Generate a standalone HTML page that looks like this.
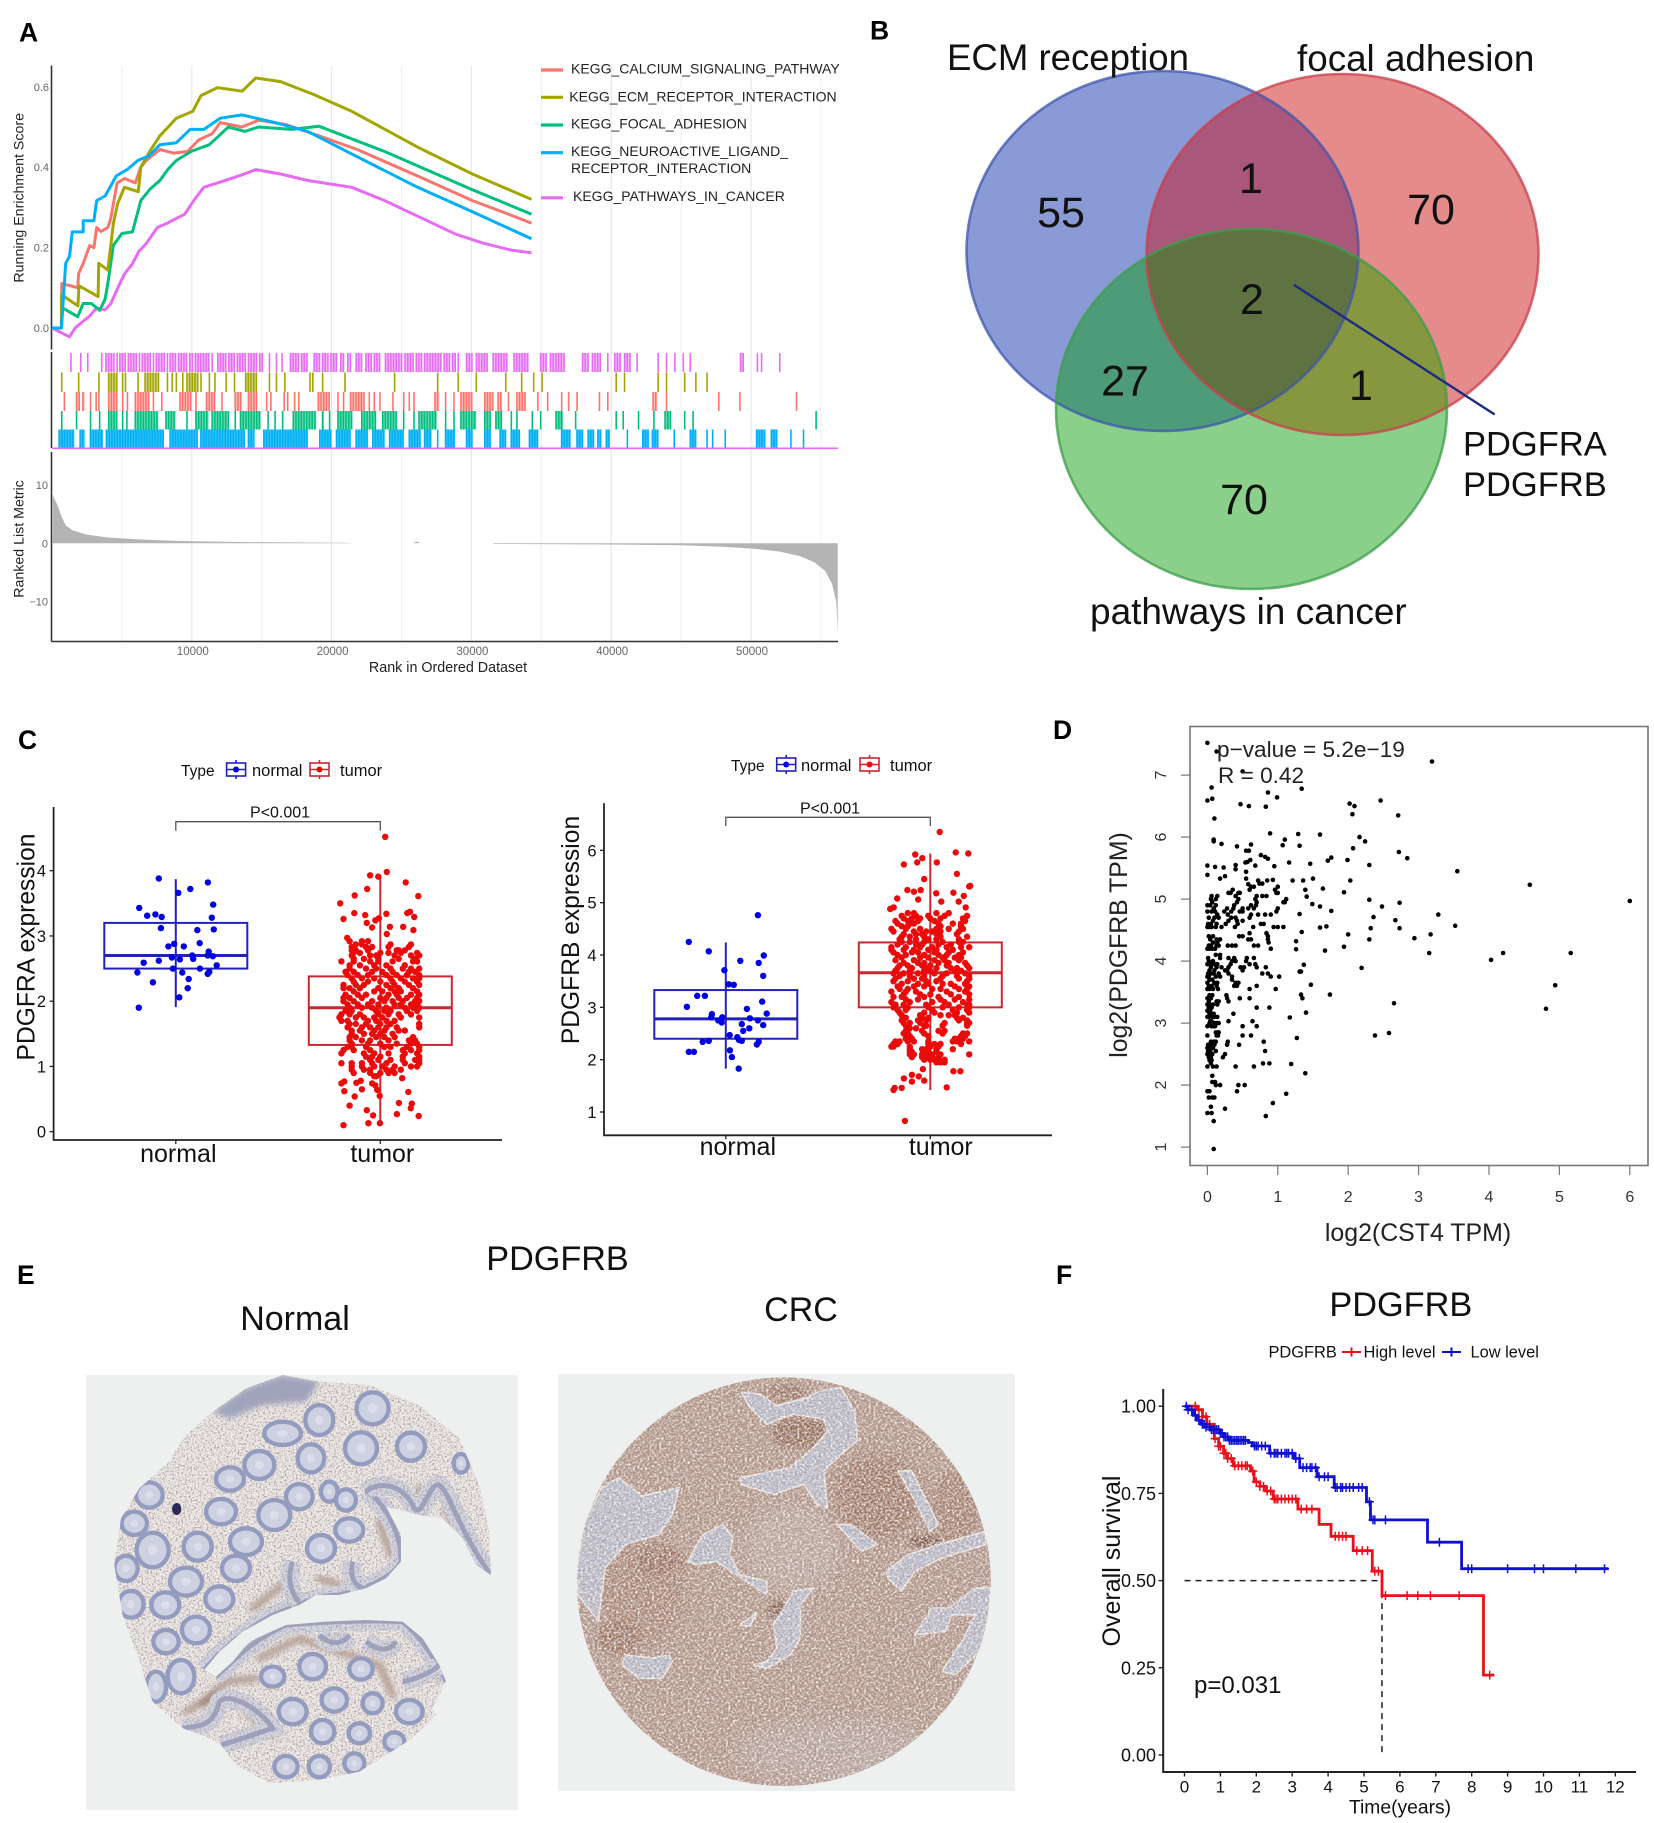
<!DOCTYPE html>
<html lang="en">
<head>
<meta charset="utf-8">
<title>PDGFR multi-panel figure</title>
<style>
html,body{margin:0;padding:0;background:#fff}
svg{display:block}
text{font-family:"Liberation Sans",sans-serif;fill:#111}
.letter{font-weight:700;font-size:26.5px;fill:#000}
</style>
</head>
<body>
<svg id="fig" xmlns="http://www.w3.org/2000/svg" width="1654" height="1823" viewBox="0 0 1654 1823">
<defs>
<clipPath id="clipBlue"><ellipse cx="1162.5" cy="251" rx="196" ry="180"/></clipPath>
<clipPath id="clipRed"><ellipse cx="1342.5" cy="254.5" rx="196" ry="180.5"/></clipPath>
<clipPath id="clipGreen"><ellipse cx="1251.5" cy="409" rx="195.5" ry="180"/></clipPath>
<clipPath id="clipNormal"><path transform="translate(86 1375) scale(.3333)" d="M590 0 L700 20 L850 30 L1000 90 L1120 190 L1180 330 L1210 470 L1215 600 L1170 570 L1130 490 L1070 430 L1000 420 L900 395 L945 480 L945 560 L900 610 L840 640 L760 660 L690 660 L640 690 L560 720 L470 770 L400 830 L355 885 L390 905 L440 860 L490 800 L600 750 L720 740 L840 735 L950 740 L1010 790 L1060 870 L1080 920 L1040 1000 L1050 1020 L980 1090 L900 1140 L820 1190 L700 1215 L550 1225 L450 1170 L405 1110 L360 1085 L290 1060 L200 980 L160 860 L110 720 L85 570 L105 430 L160 340 L250 260 L290 190 L380 110 L480 40 Z"/></clipPath>
<clipPath id="clipCrc"><ellipse cx="783.8" cy="1581.7" rx="207" ry="204.3"/></clipPath>
<filter id="speckle" x="0" y="0" width="100%" height="100%"><feTurbulence type="fractalNoise" baseFrequency="0.55" numOctaves="2" seed="4" result="n"/><feColorMatrix in="n" type="matrix" values="0 0 0 0 .42  0 0 0 0 .35  0 0 0 0 .36  3.2 0 0 0 -1.4" result="w"/><feComposite in="w" in2="SourceGraphic" operator="in" result="wc"/><feMerge><feMergeNode in="SourceGraphic"/><feMergeNode in="wc"/></feMerge></filter>
<filter id="fineTex" x="0" y="0" width="100%" height="100%"><feTurbulence type="fractalNoise" baseFrequency="0.42 0.5" numOctaves="2" seed="9" result="n"/><feColorMatrix in="n" type="matrix" values="0 0 0 0 .97  0 0 0 0 .93  0 0 0 0 .91  2.6 0 0 0 -1.08" result="w"/><feColorMatrix in="n" type="matrix" values="0 0 0 0 .38  0 0 0 0 .27  0 0 0 0 .24  0 2.2 0 0 -0.96" result="d"/><feComposite in="w" in2="SourceGraphic" operator="in" result="wc"/><feComposite in="d" in2="SourceGraphic" operator="in" result="dc"/><feMerge><feMergeNode in="SourceGraphic"/><feMergeNode in="wc"/><feMergeNode in="dc"/></feMerge></filter>
<filter id="soft" x="-20%" y="-20%" width="140%" height="140%"><feGaussianBlur stdDeviation="1.1"/></filter>
<filter id="softer" x="-50%" y="-50%" width="200%" height="200%"><feGaussianBlur stdDeviation="9"/></filter>
<filter id="softest" x="-50%" y="-50%" width="200%" height="200%"><feGaussianBlur stdDeviation="22"/></filter>
</defs>

<text class="letter" x="19" y="41.5">A</text>
<text class="letter" x="870" y="39.5">B</text>
<text class="letter" x="18" y="749">C</text>
<text class="letter" x="1053" y="739">D</text>
<text class="letter" x="17" y="1284">E</text>
<text class="letter" x="1056" y="1284">F</text>

<g id="panelA"></g>

<g id="panelB">
<ellipse cx="1162.5" cy="251" rx="196" ry="180" fill="#8A9AD6"/>
<ellipse cx="1342.5" cy="254.5" rx="196" ry="180.5" fill="#E58B8B"/>
<ellipse cx="1251.5" cy="409" rx="195.5" ry="180" fill="#8AD08B"/>
<g clip-path="url(#clipBlue)"><ellipse cx="1342.5" cy="254.5" rx="196" ry="180.5" fill="#A9577A"/></g>
<g clip-path="url(#clipBlue)"><ellipse cx="1251.5" cy="409" rx="195.5" ry="180" fill="#4E9B79"/></g>
<g clip-path="url(#clipRed)"><ellipse cx="1251.5" cy="409" rx="195.5" ry="180" fill="#86973F"/></g>
<g clip-path="url(#clipRed)"><g clip-path="url(#clipBlue)"><ellipse cx="1251.5" cy="409" rx="195.5" ry="180" fill="#5E7341"/></g></g>
<ellipse cx="1162.5" cy="251" rx="196" ry="180" fill="none" stroke="#3F55AE" stroke-opacity=".75" stroke-width="2.6"/>
<ellipse cx="1342.5" cy="254.5" rx="196" ry="180.5" fill="none" stroke="#C93F4C" stroke-opacity=".75" stroke-width="2.6"/>
<ellipse cx="1251.5" cy="409" rx="195.5" ry="180" fill="none" stroke="#3C9E4C" stroke-opacity=".75" stroke-width="2.6"/>
<line x1="1293.7" y1="284.7" x2="1494.7" y2="414.5" stroke="#1C2C80" stroke-width="2.4"/>
<text x="947" y="70" font-size="36.6">ECM reception</text>
<text x="1297" y="71" font-size="36.8">focal adhesion</text>
<text x="1090" y="624" font-size="37">pathways in cancer</text>
<text x="1061" y="227" font-size="43" text-anchor="middle">55</text>
<text x="1251" y="193" font-size="43" text-anchor="middle">1</text>
<text x="1431" y="224" font-size="43" text-anchor="middle">70</text>
<text x="1252" y="314" font-size="43" text-anchor="middle">2</text>
<text x="1125" y="395.5" font-size="43" text-anchor="middle">27</text>
<text x="1361" y="400" font-size="43" text-anchor="middle">1</text>
<text x="1244" y="514" font-size="43" text-anchor="middle">70</text>
<text x="1463" y="455.5" font-size="34.5">PDGFRA</text>
<text x="1463" y="496" font-size="34.5">PDGFRB</text>
</g>

<g id="panelC"></g>
<g id="panelD"></g>

<g id="panelE">
<text x="557.5" y="1270" font-size="34.2" text-anchor="middle">PDGFRB</text>
<text x="295" y="1330" font-size="34" text-anchor="middle">Normal</text>
<text x="801" y="1321" font-size="34" text-anchor="middle">CRC</text>
<rect x="86" y="1375" width="432" height="435" fill="#EEF0EF"/>
<rect x="558" y="1374" width="457" height="417" fill="#EEF0EF"/>
<g clip-path="url(#clipNormal)">
<g filter="url(#speckle)"><rect x="86" y="1375" width="432" height="435" fill="#EFEBE8"/>
<g id="normalBands" transform="translate(86 1375) scale(.3333)"></g></g>
<g id="normalGlands" transform="translate(86 1375) scale(.3333)" filter="url(#soft)"></g>
</g>
<g clip-path="url(#clipCrc)">
<g filter="url(#fineTex)"><rect x="570" y="1370" width="430" height="425" fill="#B29587"/>
<g transform="translate(558 1374) scale(.3367 .3344)">
<ellipse cx="700" cy="520" rx="140" ry="130" fill="#BCA89F" filter="url(#softest)"/>
<ellipse cx="830" cy="1130" rx="300" ry="90" fill="#B8A69F" filter="url(#softest)"/>
<ellipse cx="250" cy="650" rx="130" ry="170" fill="#AA8572" filter="url(#softest)"/>
<ellipse cx="950" cy="370" rx="130" ry="130" fill="#A07660" filter="url(#softest)"/>
<ellipse cx="1180" cy="400" rx="70" ry="110" fill="#A67E69" filter="url(#softer)"/>
<ellipse cx="720" cy="175" rx="90" ry="45" fill="#94694F" filter="url(#softer)"/>
<ellipse cx="680" cy="60" rx="60" ry="30" fill="#9F745E" filter="url(#softer)"/>
<ellipse cx="1090" cy="500" rx="50" ry="18" fill="#7A4A30" filter="url(#softer)"/>
<ellipse cx="660" cy="705" rx="38" ry="25" fill="#85593F" filter="url(#softer)"/>
<ellipse cx="300" cy="560" rx="70" ry="45" fill="#9E725A" filter="url(#softer)"/>
<ellipse cx="180" cy="790" rx="65" ry="50" fill="#9E745D" filter="url(#softer)"/>
<g id="crcStroma" fill="#B9BFD0" stroke="#EFEBEA" stroke-width="5" stroke-linejoin="round" filter="url(#soft)"></g>
</g></g>
</g>
</g>

<g id="panelF"></g>
</svg>

<script>
/* ---------- Panel A data: rank in ordered dataset, running enrichment score ---------- */
const rankTicks = [10000, 20000, 30000, 40000, 50000];
const rankGrid = [5000, 10000, 15000, 20000, 25000, 30000, 35000, 40000, 45000, 50000, 55000];
const esTicks = [0, 0.2, 0.4, 0.6];
const metricTicks = [-10, 0, 10];
const esCalcium = [[0,0],[670,0],[700,.111],[1840,.1],[1900,.135],[2230,.161],[2700,.205],[3000,.2],[3200,.25],[3500,.24],[4000,.25],[4200,.272],[4660,.361],[5200,.372],[5960,.361],[6350,.4],[6740,.417],[7720,.444],[8700,.435],[9680,.439],[10500,.468],[11450,.483],[12030,.511],[13600,.5],[14780,.517],[16740,.506],[19090,.478],[21830,.444],[26150,.378],[30070,.317],[32500,.285],[34300,.261]];
const esEcm = [[0,0],[670,0],[670,.083],[1850,.055],[1930,.105],[3300,.078],[3340,.161],[4000,.144],[4390,.261],[4700,.31],[5180,.35],[6170,.339],[6350,.4],[7000,.44],[7720,.478],[8900,.522],[10070,.539],[10660,.578],[11840,.598],[13600,.589],[14580,.622],[16350,.613],[18700,.581],[21440,.539],[26150,.45],[30070,.383],[34300,.32]];
const esFocal = [[0,0],[670,0],[750,.05],[1840,.028],[2230,.061],[2820,.061],[3410,.044],[3800,.072],[4000,.112],[4390,.206],[5000,.235],[5760,.239],[6350,.317],[7000,.345],[7720,.367],[8300,.395],[8900,.417],[10000,.44],[11250,.456],[12620,.5],[13800,.489],[14780,.5],[17130,.494],[19090,.502],[23800,.439],[30070,.344],[34300,.283]];
const esNeuro = [[0,0],[670,0],[980,.161],[1250,.178],[1450,.239],[2230,.239],[2230,.267],[3000,.267],[3200,.317],[3800,.328],[4590,.378],[5370,.394],[6150,.417],[6940,.428],[7720,.456],[8900,.461],[9880,.494],[10860,.494],[12030,.522],[13600,.53],[15950,.511],[18300,.489],[21440,.433],[26150,.35],[30070,.289],[34300,.222]];
const esCancer = [[0,0],[1250,-.022],[1650,0],[2230,.017],[2700,.03],[3200,.05],[3800,.045],[4200,.06],[4780,.105],[5200,.135],[5760,.16],[6200,.19],[6740,.21],[7530,.25],[8200,.26],[9490,.283],[10200,.32],[10860,.35],[12030,.363],[13600,.381],[14580,.394],[16350,.383],[18300,.367],[21440,.35],[23800,.317],[26150,.278],[28900,.233],[30850,.211],[32800,.194],[34300,.187]];
/* gene-set hits, rank / 100, [from,to] or [single] */
const rugCancer = [[13],[20],[25],[35],[38,44],[46],[48,52],[54,60],[62],[64,70],[72],[74,80],[82],[84,88],[90,96],[98,100],[102,112],[114],[118,124],[126,130],[132,138],[140,146],[148,151],[155],[160],[164],[170,176],[178,183],[187,191],[193,197],[199,204],[206,209],[211,213],[217,222],[224,228],[230,234],[238,250],[252,258],[260,264],[266,278],[280,284],[286,288],[290],[296,300],[303,311],[315,326],[330,341],[349,354],[356,367],[379,384],[386,392],[397],[402,407],[409,414],[418],[433],[439],[445],[451],[456],[492,494],[504],[507],[520]];
const rugEcm = [[6.4],[18.5],[33],[40,47],[50],[52],[61],[66,76],[82],[85.4],[88.4],[93],[96,104],[106],[112],[116],[124],[130],[138,146],[155],[160],[166],[184],[186],[193],[209],[244.5],[275.3],[290],[303,304],[324],[335.4],[344],[350],[403],[409],[433],[439],[452],[460],[468]];
const rugCalcium = [[8.3],[17,20],[21.5,23.4],[27],[31],[33],[40,46],[50],[53.4],[59,69],[72],[78],[91,99],[102.4],[110,116],[121],[130.5,136],[140,146],[153],[156],[165.5],[168],[173],[176],[190,198],[204],[208],[213,223],[226.4],[230],[234],[243.3],[251],[255],[258.4],[273.4,277],[281],[287],[292,300.5],[309,315],[318.5,322],[326],[332,339],[347],[354],[364],[369],[375],[391],[397],[429.4,433],[439],[476.4],[491.5],[532]];
const rugFocal = [[6.4],[17],[27],[33.5],[40,46],[50],[53],[59,76],[81,88.4],[96],[102.4,112],[114,125.6],[130.5],[134.3,149.3],[154],[159],[164.4],[172,189],[193,194.5],[198],[204,215],[221,232],[236,247],[251],[258.4],[262,275.3],[281],[287],[292,303.5],[309,313],[317,322],[328],[332],[343],[349],[360,365.5],[374],[403],[408],[419],[430],[438,442],[452],[458],[546]];
const rugNeuro = [[4.6,16],[19.6,23.4],[27,36.5],[38.4,80],[84,104],[106,138],[140,144],[151,183],[191,200],[203,213],[217,226],[229,238],[241,251],[255,263],[266,271.5],[275.3],[281,288.4],[296,300],[309,313],[320,324],[328,334],[341,347],[364,371],[375,380],[383,387],[390,393],[396,399],[411],[422,426],[429,433],[444.5],[456,460],[468],[472],[481],[503.5,510],[514,518],[528],[537]];
/* ranked list metric: [rank, value] */
const metricCurve = [[0,9],[100,8],[400,6.5],[700,4.5],[1000,3],[1500,2.2],[2500,1.5],[4000,1],[6000,.7],[9000,.4],[14000,.2],[21000,.1],[21500,0],[25900,0],[26000,.25],[26200,.25],[26300,0],[31500,0],[31600,-.1],[40000,-.2],[45000,-.35],[48000,-.6],[50000,-.9],[52000,-1.4],[53500,-2.2],[54500,-3.2],[55300,-4.7],[55800,-7],[56100,-10],[56200,-15.5]];
const gseaNames = ['KEGG_CALCIUM_SIGNALING_PATHWAY','KEGG_ECM_RECEPTOR_INTERACTION','KEGG_FOCAL_ADHESION','KEGG_NEUROACTIVE_LIGAND_','RECEPTOR_INTERACTION','KEGG_PATHWAYS_IN_CANCER'];

/* ---------- Panel C data: [value, jitter...] rows; jitter is hundredths of a category ---------- */
const boxTicksA = [0, 1, 2, 3, 4];
const boxTicksB = [1, 2, 3, 4, 5, 6];
const boxCategories = ['normal', 'tumor'];
/* low whisker, q1, median, q3, high whisker */
const statsANormal = [1.91, 2.5, 2.7, 3.2, 3.87];
const statsATumor = [0.1, 1.33, 1.9, 2.38, 3.88];
const statsBNormal = [1.83, 2.4, 2.78, 3.33, 4.24];
const statsBTumor = [1.42, 3.0, 3.66, 4.24, 5.94];
const normalA = [[3.88,-8.3],[3.82,15.7],[3.66,1.2],[3.72,7.1],[3.48,18.3],[3.43,-17.9],[3.31,-14],[3.33,-10],[3.29,-6.9],[3.28,17.6],[3.12,-7.3],[3.09,10.5],[3.1,18.6],[2.89,11.7],[2.88,-.8],[2.84,-3.6],[2.84,3.9],[2.76,16.1],[2.7,8],[2.7,15.6],[2.69,18.1],[2.67,-1.9],[2.64,2],[2.65,8.5],[2.59,-15.7],[2.62,-8.3],[2.55,20],[2.5,-1.4],[2.5,11.8],[2.44,-18.8],[2.44,3.2],[2.45,16.4],[2.42,15.6],[2.34,6.3],[2.29,-11.2],[2.2,5.8],[2.06,1.7],[1.9,-18.1]];
const tumorA = [[4.52,2.4],[3.98,3.2],[3.93,-5],[3.91,-1],[3.82,12.4],[3.72,-6.4],[3.62,-12.5],[3.61,18.6],[3.5,-19.6],[3.35,-12.7],[3.32,-7.4],[3.34,3],[3.37,14.5],[3.35,13.2],[3.29,16.6],[3.26,-18],[3.27,-.7],[3.24,-2.4],[3.2,-6.6],[3.14,4.7],[3.14,11.2],[3.13,-4],[3.09,16.2],[3.03,3.2],[2.97,-16.2],
[2.92,-15,-9,-6],[2.87,-12,-9,5,15],[2.83,-14,-7,-4,4,14],[2.78,-14,-12,-6,8,9,12],[2.74,-13,-10,0,4,10,18],[2.7,-14,-5,-2,7,15,19],[2.65,-13,-8,-1,9,17],[2.61,-19,-13,-5,-1,6,16,18],[2.55,-15,-10,-3,3,12],[2.5,-15,-7,-2,5,11,15,19],[2.45,-17,-13,-4,1,6,14,17],[2.4,-16,-11,-6,3,8,13,19],[2.35,-14,-9,-3,5,10,16,19],[2.3,-13,-6,0,6,12,18],[2.25,-18,-12,-8,3,7,14,19],[2.2,-18,-15,-10,-1,5,9,16],[2.15,-13,-3,1,7,10,18],[2.1,-17,-11,-7,4,8,15,19],[2.05,-18,-15,-9,0,3,9,13,18],[2,-18,-13,-4,2,6,11,17,19],[1.95,-16,-11,-6,-1,7,10,15,18],[1.9,-15,-9,-4,3,12,16,19],[1.85,-17,-14,-2,2,5,13,18],[1.8,-19,-15,-10,-1,4,9,15],[1.75,-20,-12,-8,-3,1,10,19],[1.7,-19,-16,-6,-2,3,7],[1.65,-15,-12,-7,0,5,19],[1.6,-16,-9,-5,-1,3,8,19],[1.55,-14,-10,-3,2,9,12],[1.5,-14,-8,-4,0,6],[1.45,-15,-12,-2,2,7,16],[1.4,-15,-9,-5,4,14,17],[1.35,-14,-6,0,8,15,18],[1.3,-16,-14,-7,2,5,13,19],[1.25,-18,-13,-5,11,15,19],[1.2,-19,-8,-3,4,12,18],[1.15,-7,-4,0,11,19],[1.1,-5,-1,5,11,17,19],[1.05,-19,-14,-9,-4,3,12,19],[1,-14,-9,-3,1,7,15,18],[.95,-14,-8,-5,3,6,10],[.9,-13,-5,0,4,7],[.85,-3,-2],
[.82,10.7],[.78,-9.6],[.77,-17.6],[.75,-11.7],[.74,-19],[.74,-4],[.71,-2.4],[.65,-9],[.64,-1.5],[.62,-17.6],[.61,13.7],[.55,-.3],[.54,-12.5],[.44,9.1],[.43,15.4],[.4,-15],[.36,14.9],[.33,-6.6],[.27,8.1],[.25,-3.5],[.24,18.8],[.13,-5.8],[.13,-.2],[.1,-18]];
const normalB = [[4.76,15.7],[4.25,-18.1],[4.07,-8.3],[3.99,18.6],[3.89,7.1],[3.85,16.1],[3.71,-.7],[3.6,18.3],[3.44,1.4],[3.43,3.9],[3.22,-14],[3.22,-10.2],[3.11,17.8],[3.01,-19],[2.97,10.3],[2.88,20],[2.87,-6.8],[2.81,-7.1],[2.81,-1.7],[2.79,11.8],[2.75,-3.7],[2.71,-2],[2.75,15.7],[2.66,18.3],[2.68,7.8],[2.6,11.5],[2.55,8.5],[2.47,1.9],[2.43,5.6],[2.38,6.4],[2.36,7.8],[2.34,-11.3],[2.36,-8.3],[2.34,16.1],[2.29,15.2],[2.15,-18.1],[2.15,-15.6],[2.18,2],[2.05,3],[1.83,6.3]];
const tumorB = [[6.35,4.6],[5.92,-7.4],[5.85,-3.9],[5.96,12.4],[5.94,18.6],[5.73,-12.9],[5.77,-6.4],[5.77,3.2],[5.55,13],[5.45,-3],[5.32,19.5],[5.31,19],[5.24,-11.2],[5.21,-8],[5.24,-4.7],[5.18,2.9],[5.19,11.3],[5.13,16.4],[5.08,-16.2],[5.06,-5.9],[5.02,5.4],[5.02,13.9],[4.91,17.3],[4.88,-19.6],[4.91,-17.9],
[4.8,-11,-8,3,9],[4.75,-14,-7,-1,7,18],[4.7,-13,-9,-5,0,5,16],[4.65,-17,-11,-6,2,17],[4.6,-16,-10,-8,4,11,15],[4.55,-14,-11,5,15],[4.5,-19,-12,-5,3,9,16],[4.45,-18,-8,-2,1,5,14],[4.4,-13,-7,-4,3,13],[4.35,-14,-10,-3,5,18],[4.3,-15,-7,-1,3,14],[4.25,-14,-10,-3,6,14,16],[4.2,-16,-7,-4,4,10],[4.15,-19,-12,-5,1,8,15,19],[4.1,-19,-13,-8,-1,3,11],[4.05,-18,-9,-6,2,9,16],[4,-16,-12,-3,4,8,14],[3.95,-14,-5,-1,6,12,15],[3.9,-17,-8,2,7,14],[3.85,-13,-6,-3,4,9,17],[3.8,-15,-11,-4,0,8,18],[3.75,-16,-9,-2,3,10,13,19],[3.7,-17,-10,-3,0,12,15],[3.65,-18,-13,-6,2,8,17],[3.6,-15,-10,-3,6,13,19],[3.55,-17,-8,-4,5,14,19],[3.5,-18,-11,-2,3,18],[3.45,-14,-6,-1,6,10,17],[3.4,-16,-8,-3,12,19],[3.35,-15,-11,1,5,14,18],[3.3,-19,-12,-7,8,17],[3.25,-13,-5,0,10,19],[3.2,-18,-14,-3,4,14],[3.15,-12,-6,5,12,19],[3.1,-19,-10,1,7,16],[3.05,-17,-13,-2,9,18,19],[3,-18,-11,-1,6,14,19],[2.95,-16,-12,1,11,18],[2.9,-15,-3,2,13,19],[2.85,-14,-5,5,9,12],[2.8,-12,-4,-1,13,16],[2.75,-14,-6,-2,14,18],[2.7,-13,-10,-5,7,18,19],[2.65,-12,-3,-2,6,18],[2.6,-10,-7],[2.55,-12,-4,4,7],[2.5,-13,-11,-3,6,16,18],[2.45,-10,-1,15,17],[2.4,-12,-9,12,14,16],[2.35,-17,-15,-11,-8,-1,11,13,19],[2.3,-18,-16,-1,2,5,15],[2.25,-19,-18,-10,0,4],[2.2,-10,-4,-2,3,11],[2.15,-10,-9,-3,-1,3],[2.1,-10,-8,-4,-2,1,5,19],[2.05,-9,-4,-1,1,4],[2,-3,0,2,4,7],[1.95,3,5,7],
[1.82,-3.6],[1.78,11.3],[1.78,14.7],[1.71,-9],[1.68,-5.6],[1.64,-12.9],[1.6,-3],[1.58,-9],[1.47,8],[1.46,-17.4],[1.46,-14],[1.42,-18],[.83,-12.4]];

/* ---------- Panel D data: [y, x...] rows, log2 TPM ---------- */
const scatterXTicks = [0, 1, 2, 3, 4, 5, 6];
const scatterYTicks = [1, 2, 3, 4, 5, 6, 7];
const scatterRows = [[7.52,0],[7.22,3.19],[7.38,.13],[7.06,.5],[6.8,.06],[6.78,1.34],[6.72,.86],[6.59,0],[6.62,.07],[6.64,.99],[6.53,.47],[6.5,.59],[6.49,.83],[6.54,2.02],[6.5,2.09],[6.59,2.46],[6.37,2.06],[6.35,2.71],[6.3,.1],[6.06,.89],[6.05,1.29],[6.04,1.6],[5.96,.09],[5.93,.09],[5.96,1.1],[6,2.16],[5.93,2.24],[5.89,.2],[5.85,.42],[5.88,.62],[5.87,1.07],[5.86,1.31],[5.82,2.07],[5.78,.55],[5.78,.59],[5.76,2.72],[5.71,.76],[5.66,2.84],[5.68,.82],[5.65,.86],[5.67,1.76],[5.62,1.71],[5.63,1.99],[5.6,.57],[5.63,.61],[5.59,.54],[5.59,1.16],[5.57,1.46],[5.55,2.3],[5.54,0],[5.52,.11],[5.51,.23],[5.55,.4],[5.48,.4],[5.54,.68],[5.53,.95],[5.45,3.55],[5.39,0],[5.44,.55],[5.33,.18],[5.37,.25],[5.33,.55],[5.31,.93],[5.3,1.21],[5.3,1.36],[5.33,1.5],[5.3,2.03],[5.24,.58],[5.23,4.58],[5.2,.62],
[5.17,1.64],[5.15,1.39],[5.11,1.94],[4.99,2.3],[4.94,2.73],[4.97,6],[5.04,1.41],[4.92,1.49],[4.88,1.6],[4.88,2.48],[4.81,1.76],[4.75,3.28],[4.71,2.36],[4.66,2.67],[4.76,1.31],[4.57,3.52],[4.56,1.69],[4.54,1.6],[4.53,2.32],[4.53,2.73],[4.47,1.34],[4.43,2],[4.43,3.17],[4.32,1.26],[4.35,2.3],[4.37,2.94],[4.19,1.26],[4.17,1.67],[4.23,1.94],[4.13,3.15],[4.13,4.2],[4.13,5.16],[4.02,4.03],[3.89,2.19],[3.94,1.37],[3.83,1.31],[3.83,1.33],[3.62,1.47],[3.61,4.94],[3.46,1.74],[3.46,1.33],[3.4,1.35],[3.32,2.65],[3.23,4.81],[3.17,1.4],[3.09,1.17],[2.8,2.38],[2.84,2.58],[2.76,1.27],[2.34,1.19],[2.19,1.39],[1.86,1.12],[1.71,.93],[1.5,.83],[1.62,.25],[1.42,.09],[.97,.09],
[1.55,0,.06],[1.65,.05],[1.8,.02,.07,.1],[1.9,0,.03,.42],[2,.12,.18,.44,.53],[2.05,.07,.11],[2.15,.07],[2.3,0,.08,.13,.4,.66],[2.35,.05,.79,.88],[2.4,.03,.06],[2.45,.02,.05,.22],[2.5,0,.03,.07,.25],[2.55,.01,.04,.12,.82],[2.6,0,.03,.08],[2.65,.01,.06,.1,.45,.28],[2.7,.05,.09,.12,.29,.8],[2.8,0,.13,.15,.5,.62],[2.85,.12,.15,.16],[2.95,0,.06,.08,.11,.5,.7],[3,.03,.1,.13,.16],[3.03,.04,.06,.3,.64],[3.1,0,.02,.07,.1,.14],[3.15,.03,.05,.09,.37],[3.2,0,.01,.04],[3.25,.02,.06,.7,.88],[3.3,0,.03,.08,.14],[3.35,.02,.13,.16,.3],[3.4,0,.05,.28,.46,.6],[3.45,.03,.07,.27],[3.55,0,.03,.08,.15,.6,.97],[3.6,.02,.06,.13,.38,.42,.7],[3.65,0,.1,.14,.4,.44],[3.7,.03,.07,.35],[3.75,0,.02,.12,.18,.35,.9,1.02],[3.8,.01,.05,.09,.16,.3,.78,.86],[3.85,.03,.1,.25,.28,.5],[3.9,.05,.13,.2,.3,.47,.52,.7,.83],[3.95,0,.06,.1,.14,.33,.6,.68],[4,.02,.08,.35,.4,.55],[4.05,.01,.18,.3,.38,.56,.66],[4.1,.12,.18],[4.2,0,.03,.07,.11,.9],[4.25,.02,.05,.13,.16,.29,.35,.4,.66,.72],[4.3,.08,.14,.87],[4.35,.04,.13,.18,.58,.62,.86],[4.4,.02,.08,.45,.5,.86],[4.45,.6,.84],[4.55,0,.03,.06,.12,.2,.39,.65,.94,1,1.08],[4.6,.01,.05,.13,.26,.43,.76,.8],[4.65,.08,.3,.42,.5],[4.7,.02,.1,.16,.34,.4,.6],[4.75,.14,.29,.62,.72,.82,.9],[4.8,0,.06,.11,.24,.34,.46,.5,.98],[4.85,.09,.28,.37,.5,.58,.66,1],[4.9,0,.04,.12,.38,.62,.69],[4.95,.07,.42,.7,1.08,1.1],[5,.05,.12,.44,.68,1.12],[5.05,.06,.14,.4,.7,.78,.84],[5.1,.3,.33,.44,.46,.98,1],[5.15,.36,.6,.96],[5.2,.66,1],[5.25,.74,.78],[5.3,.72,.85]];

/* ---------- Panel F data: [years, survival] step events and censor times ---------- */
const survXTicks = [0,1,2,3,4,5,6,7,8,9,10,11,12];
const survYTicks = [0, 0.25, 0.5, 0.75, 1];
const survHigh = [[0,1],[.35,.99],[.5,.97],[.62,.948],[.83,.907],[.95,.885],[1.09,.865],[1.2,.85],[1.36,.829],[1.84,.814],[1.94,.783],[2.1,.77],[2.26,.757],[2.47,.734],[3.16,.705],[3.75,.661],[4.08,.627],[4.7,.586],[5.23,.527],[5.5,.457],[8.33,.229]];
const survLow = [[0,1],[.1,.99],[.24,.974],[.35,.96],[.46,.948],[.6,.94],[.72,.933],[.99,.922],[1.1,.912],[1.25,.902],[1.78,.896],[1.89,.886],[2.37,.865],[3.06,.85],[3.21,.824],[3.69,.798],[4.17,.767],[5.07,.726],[5.18,.674],[6.77,.61],[7.72,.534]];
const censorHigh = [.3,.4,.5,.6,.7,.85,.95,1,1.1,1.15,1.2,1.3,1.4,1.5,1.6,1.7,1.75,1.9,2,2.1,2.2,2.3,2.4,2.5,2.55,2.6,2.7,2.8,2.9,3,3.1,3.25,3.4,3.55,4.2,4.3,4.4,4.5,4.8,4.95,5.1,5.3,5.4,5.6,6.2,6.5,6.85,7.65,8.5];
const censorLow = [.05,.1,.2,.3,.4,.5,.55,.6,.7,.75,.8,.85,.9,.95,1,1.05,1.1,1.15,1.2,1.25,1.3,1.35,1.4,1.45,1.5,1.55,1.6,1.65,1.7,1.95,2,2.05,2.15,2.25,2.4,2.5,2.55,2.6,2.7,2.8,2.85,2.9,3,3.1,3.2,3.3,3.4,3.5,3.55,3.65,3.75,3.9,4,4.2,4.25,4.35,4.4,4.5,4.6,4.7,4.85,4.95,5.15,5.25,5.3,5.6,7.1,7.9,8,9,9.75,10,10.9,11.7];
const survEnd = {high: 8.63, low: 11.81};
const medianSurvival = 5.5;

/* ---------- helpers ---------- */
const NS = 'http://www.w3.org/2000/svg';
function make(tag, attrs, parent, txt) {
  const e = document.createElementNS(NS, tag);
  for (const k in attrs) e.setAttribute(k, attrs[k]);
  if (txt !== undefined) e.textContent = txt;
  parent.appendChild(e);
  return e;
}
const $ = id => document.getElementById(id);

/* ---------- Panel A ---------- */
(function () {
  const g = $('panelA');
  const xR = r => 52 + r * 0.01398;
  const yE = v => 328 - v * 402;
  const yM = v => 543.3 - v * 5.83;
  for (const r of rankGrid) {
    const l = make('line', {x1: xR(r), x2: xR(r), y1: 66, y2: 641, stroke: r % 10000 ? '#F1F1F1' : '#E8E8E8', 'stroke-width': 1.2}, g);
    
    
  }
  const axes = [[51.5, 65.6, 51.5, 349.5, 'es-y-axis'], [51.5, 352, 51.5, 448, 'rug-y-axis'], [51.5, 452, 51.5, 641.5, 'metric-y-axis'], [51.5, 641.5, 838, 641.5, 'rank-x-axis']];
  for (const a of axes) {
    const l = make('line', {x1: a[0], y1: a[1], x2: a[2], y2: a[3], stroke: '#333', 'stroke-width': 1.6}, g);
    
    
  }
  for (const v of esTicks) {
    const t = make('text', {x: 49, y: yE(v) + 4, 'font-size': 11, 'text-anchor': 'end', style: 'fill:#666'}, g, v.toFixed(1));
    
    
  }
  for (const v of metricTicks) {
    const t = make('text', {x: 48, y: yM(v) + 4, 'font-size': 11, 'text-anchor': 'end', style: 'fill:#666'}, g, v < 0 ? '\u2212' + (-v) : String(v));
    
    
  }
  for (const r of rankTicks) {
    const t = make('text', {x: xR(r) + 1, y: 655, 'font-size': 11.5, 'text-anchor': 'middle', style: 'fill:#666'}, g, String(r));
    
    
  }
  const t1 = make('text', {transform: 'translate(23.5 197.8) rotate(-90)', 'font-size': 14.2, 'text-anchor': 'middle', style: 'fill:#222'}, g, 'Running Enrichment Score');
  
  
  const t2 = make('text', {transform: 'translate(23.5 539) rotate(-90)', 'font-size': 14.2, 'text-anchor': 'middle', style: 'fill:#222'}, g, 'Ranked List Metric');
  
  
  const t3 = make('text', {x: 448, y: 671.8, 'font-size': 14.3, 'text-anchor': 'middle', style: 'fill:#222'}, g, 'Rank in Ordered Dataset');
  
  

  /* rug */
  const rugs = [[rugCancer, '#E76BF3', 353, 19, .5], [rugEcm, '#A3A500', 372.5, 19.5, .5], [rugCalcium, '#F8766D', 392, 19, .5], [rugFocal, '#00BF7D', 411, 18.5, .6], [rugNeuro, '#00B0F6', 429.5, 18.5, .8]];
  for (const R of rugs) {
    for (const h of R[0]) {
      const x0 = xR(h[0] * 100);
      if (h.length > 1) {
        const x1 = xR(h[1] * 100);
        const b = make('rect', {x: x0, y: R[2], width: x1 - x0, height: R[3], fill: R[1], 'fill-opacity': R[4]}, g);
        
        
        for (let x = x0; x < x1; x += 2.7) {
          const s = make('rect', {x: x.toFixed(1), y: R[2], width: 1.5, height: R[3], fill: R[1]}, g);
          
          
        }
      } else {
        const s = make('rect', {x: x0, y: R[2], width: 1.6, height: R[3], fill: R[1]}, g);
        
        
      }
    }
  }
  const base = make('line', {x1: 52, x2: 838, y1: 448.3, y2: 448.3, stroke: '#E76BF3', 'stroke-width': 1.6}, g);
  
  

  /* metric */
  let d = 'M' + xR(0) + ' ' + yM(0);
  for (const p of metricCurve) d += 'L' + xR(p[0]).toFixed(1) + ' ' + yM(p[1]).toFixed(1);
  d += 'L' + xR(metricCurve[metricCurve.length - 1][0]).toFixed(1) + ' ' + yM(0) + 'Z';
  const area = make('path', {d: d, fill: '#B4B4B4'}, g);
  
  

  /* curves */
  const curves = [[esCancer, '#E76BF3', 'curve-pathways-in-cancer'], [esCalcium, '#F8766D', 'curve-calcium-signaling'], [esFocal, '#00BF7D', 'curve-focal-adhesion'], [esEcm, '#A3A500', 'curve-ecm-receptor'], [esNeuro, '#00B0F6', 'curve-neuroactive-ligand']];
  for (const c of curves) {
    const pth = make('polyline', {points: c[0].map(p => xR(p[0]).toFixed(1) + ',' + yE(p[1]).toFixed(1)).join(' '), fill: 'none', stroke: c[1], 'stroke-width': 3, 'stroke-linejoin': 'round'}, g);
    
    
  }
  /* legend */
  const legend = [[70, '#F8766D', gseaNames[0], 571, 73.7], [97.3, '#A3A500', gseaNames[1], 569.3, 101.3], [125, '#00BF7D', gseaNames[2], 571, 128.6], [152.7, '#00B0F6', gseaNames[3], 571, 156.2], [197.8, '#E76BF3', gseaNames[5], 573, 200.9]];
  for (const L of legend) {
    const k = make('line', {x1: 541, x2: 563, y1: L[0], y2: L[0], stroke: L[1], 'stroke-width': 3.2}, g);
    
    
    const t = make('text', {x: L[3], y: L[4], 'font-size': 14, style: 'fill:#222'}, g, L[2]);
    
    
  }
  const tx = make('text', {x: 571, y: 173.2, 'font-size': 14, style: 'fill:#222'}, g, gseaNames[4]);
  
  
})();

/* ---------- Panel C ---------- */
function boxPanel(cfg) {
  const g = make('g', {}, $('panelC'));
  
  
  const xC = (i, j) => cfg.x0 + (i + (j || 0) / 100) * 204.5;
  const yV = v => cfg.y0 - (v - cfg.v0) * cfg.k;
  const ax = make('path', {d: 'M' + cfg.axisX + ' ' + cfg.axisTop + 'V' + cfg.axisY + 'H' + cfg.axisRight, fill: 'none', stroke: '#222', 'stroke-width': 1.8}, g);
  
  
  for (const v of cfg.ticks) {
    const tk = make('line', {x1: cfg.axisX - 4, x2: cfg.axisX, y1: yV(v), y2: yV(v), stroke: '#222', 'stroke-width': 1.3}, g);
    
    
    const t = make('text', {x: cfg.axisX - 7.5, y: yV(v) + 6, 'font-size': 16.5, 'text-anchor': 'end'}, g, String(v));
    
    
  }
  boxCategories.forEach((c, i) => {
    const tk = make('line', {x1: xC(i), x2: xC(i), y1: cfg.axisY, y2: cfg.axisY + 4, stroke: '#222', 'stroke-width': 1.3}, g);
    
    
    const t = make('text', {x: xC(i) + cfg.labelShift[i], y: cfg.labelY, 'font-size': 25, 'text-anchor': 'middle'}, g, c);
    
    
  });
  const yt = make('text', {transform: 'translate(' + cfg.titleX + ' ' + cfg.titleY + ') rotate(-90)', 'font-size': 24.6, 'text-anchor': 'middle'}, g, cfg.title);
  
  
  const colors = [['#2222BB', '#0000E0'], ['#CC2630', '#EA0A0A']];
  [cfg.stats0, cfg.stats1].forEach((s, i) => {
    const cx = xC(i), hw = 71.5;
    const wh = make('line', {x1: cx, x2: cx, y1: yV(s[0]), y2: yV(s[4]), stroke: colors[i][0], 'stroke-width': 2}, g);
    
    
    const r = make('rect', {x: cx - hw, y: yV(s[3]), width: hw * 2, height: yV(s[1]) - yV(s[3]), fill: 'none', stroke: colors[i][0], 'stroke-width': 2}, g);
    
    
    const m = make('line', {x1: cx - hw, x2: cx + hw, y1: yV(s[2]), y2: yV(s[2]), stroke: colors[i][0], 'stroke-width': 3}, g);
    
    
  });
  [cfg.pts0, cfg.pts1].forEach((rows, i) => {
    for (const row of rows) {
      for (let n = 1; n < row.length; n++) {
        const p = make('circle', {cx: xC(i, row[n]).toFixed(1), cy: yV(row[0]).toFixed(1), r: 3.2, fill: colors[i][1]}, g);
        
        
      }
    }
  });
  const br = make('path', {d: 'M' + xC(0) + ' ' + cfg.bracketBottom + 'V' + cfg.bracketY + 'H' + xC(1) + 'V' + cfg.bracketBottom, fill: 'none', stroke: '#555', 'stroke-width': 1.3}, g);
  
  
  const pv = make('text', {x: (xC(0) + xC(1)) / 2 + 2, y: cfg.bracketY - 4, 'font-size': 16, 'text-anchor': 'middle'}, g, 'P<0.001');
  
  
  const L = cfg.legend;
  const ty = make('text', {x: L.type, y: L.y, 'font-size': 15.5}, g, 'Type');
  
  
  [[L.k0, L.t0, 'normal'], [L.k1, L.t1, 'tumor']].forEach((e, i) => {
    const cy = L.y - 6.5, cx = e[0] + 9.5;
    const wl = make('line', {x1: cx, x2: cx, y1: cy - 9.5, y2: cy + 9.5, stroke: colors[i][0], 'stroke-width': 1.6}, g);
    
    
    const kb = make('rect', {x: e[0], y: cy - 6.5, width: 19, height: 13, fill: '#fff', stroke: colors[i][0], 'stroke-width': 1.6}, g);
    
    
    const kl = make('line', {x1: e[0], x2: e[0] + 19, y1: cy, y2: cy, stroke: colors[i][0], 'stroke-width': 1.6}, g);
    
    
    const kd = make('circle', {cx: cx, cy: cy, r: 3, fill: colors[i][1]}, g);
    
    
    const lt = make('text', {x: e[1], y: L.y, 'font-size': 16.5}, g, e[2]);
    
    
  });
}
boxPanel({name: 'pdgfra-boxplot', x0: 175.8, y0: 1131.7, v0: 0, k: 65.25, ticks: boxTicksA, axisX: 53.6, axisTop: 807, axisY: 1140, axisRight: 502, labelShift: [2.5, 2], labelY: 1162, title: 'PDGFRA expression', titleX: 34.6, titleY: 947, stats0: statsANormal, stats1: statsATumor, pts0: normalA, pts1: tumorA, bracketY: 821.7, bracketBottom: 830.7, legend: {type: 181, y: 776, k0: 226.6, t0: 252, k1: 310, t1: 340}});
boxPanel({name: 'pdgfrb-boxplot', x0: 725.8, y0: 1112, v0: 1, k: 52.33, ticks: boxTicksB, axisX: 604, axisTop: 803.3, axisY: 1135.3, axisRight: 1052, labelShift: [12, 10.5], labelY: 1155, title: 'PDGFRB expression', titleX: 578.8, titleY: 930, stats0: statsBNormal, stats1: statsBTumor, pts0: normalB, pts1: tumorB, bracketY: 817.3, bracketBottom: 826, legend: {type: 731, y: 771, k0: 776.7, t0: 801, k1: 860, t1: 890}});

/* ---------- Panel D ---------- */
(function () {
  const g = $('panelD');
  const xS = v => 1207.4 + v * 70.4;
  const yS = v => 1147.1 - (v - 1) * 62;
  const frame = make('rect', {x: 1190, y: 726.5, width: 458, height: 439, fill: 'none', stroke: '#777', 'stroke-width': 1.6}, g);
  
  
  for (const v of scatterXTicks) {
    const tk = make('line', {x1: xS(v), x2: xS(v), y1: 1166, y2: 1175, stroke: '#777', 'stroke-width': 1.2}, g);
    
    
    const t = make('text', {x: xS(v), y: 1202, 'font-size': 16, 'text-anchor': 'middle', style: 'fill:#333'}, g, String(v));
    
    
  }
  for (const v of scatterYTicks) {
    const tk = make('line', {x1: 1181, x2: 1190, y1: yS(v), y2: yS(v), stroke: '#777', 'stroke-width': 1.2}, g);
    
    
    const t = make('text', {transform: 'translate(1166 ' + yS(v) + ') rotate(-90)', 'font-size': 16, 'text-anchor': 'middle', style: 'fill:#333'}, g, String(v));
    
    
  }
  for (const row of scatterRows) {
    for (let n = 1; n < row.length; n++) {
      const p = make('circle', {cx: xS(row[n]).toFixed(1), cy: yS(row[0]).toFixed(1), r: 2.3, fill: '#000'}, g);
      
      
    }
  }
  const a = make('text', {x: 1217, y: 757, 'font-size': 22.6, style: 'fill:#222'}, g, 'p\u2212value = 5.2e\u221219');
  
  
  const b = make('text', {x: 1218, y: 783, 'font-size': 22.6, style: 'fill:#222'}, g, 'R = 0.42');
  
  
  const c = make('text', {transform: 'translate(1127 945) rotate(-90)', 'font-size': 24.8, 'text-anchor': 'middle', style: 'fill:#222'}, g, 'log2(PDGFRB TPM)');
  
  
  const e = make('text', {x: 1418, y: 1241, 'font-size': 24.9, 'text-anchor': 'middle', style: 'fill:#222'}, g, 'log2(CST4 TPM)');
  
  
})();

/* ---------- Panel E tissue textures (decorative photo approximation) ---------- */
(function () {
  const glands = [[860,100,48,48],[700,135,42,45],[590,175,55,35],[825,220,48,48],[675,250,40,42],[975,215,42,42],[520,270,45,42],[432,312,42,35],[1125,265,22,28],[190,360,40,38],[640,365,40,38],[730,350,25,30],[780,375,30,32],[405,410,45,38],[565,420,48,45],[145,445,38,35],[790,465,42,35],[200,525,48,52],[335,515,42,42],[480,500,48,40],[705,520,42,40],[120,580,35,38],[450,580,42,38],[300,620,48,42],[400,672,42,38],[135,688,38,40],[238,690,42,38],[330,765,42,40],[240,800,38,35],[285,905,40,50],[210,935,30,45],[680,875,40,38],[825,882,35,32],[560,905,35,30],[745,975,38,35],[620,1010,42,38],[860,985,30,30],[710,1070,35,35],[820,1075,32,30],[970,1010,40,35],[925,1100,30,28],[600,1175,35,32],[700,1175,32,32],[805,1165,30,30]];
  const gl = $('normalGlands');
  for (const p of glands) {
    const e = make('ellipse', {cx: p[0], cy: p[1], rx: p[2], ry: p[3], fill: '#CDD1E1', stroke: '#939BBF', 'stroke-width': 13}, gl);
    
    
    const m = make('ellipse', {cx: p[0], cy: p[1], rx: p[2] * .3, ry: p[3] * .3, fill: '#DCDFEA'}, gl);
    
    
  }
  const dark = make('ellipse', {cx: 272, cy: 402, rx: 14, ry: 18, fill: '#2A2A55'}, gl);
  
  
  const bands = $('normalBands');
  const top = make('path', {d: 'M380 110 L480 40 L590 0 L700 20 L660 80 L530 90 L430 130 Z', fill: '#8D98BE', 'fill-opacity': .85, filter: 'url(#softer)'}, bands);
  
  
  const browns = ['M520 850 L640 790 L760 830 L880 870 L920 960', 'M350 985 L420 920 L510 910', 'M480 1010 L560 1080', 'M700 610 L760 630', 'M880 440 L915 540', 'M1000 340 L1010 370 M1080 400 L1110 470', 'M500 700 L590 630', 'M300 1010 L390 960'];
  for (const d of browns) {
    const b = make('path', {d: d, fill: 'none', stroke: '#7E5038', 'stroke-opacity': .5, 'stroke-width': 20, 'stroke-linecap': 'round', filter: 'url(#softer)'}, bands);
    
    
  }
  const shapes = ['M840 345 C900 390 945 470 945 560 C920 610 840 640 760 660 C690 660 640 690 560 720 C470 770 400 830 355 885', 'M390 905 C440 860 490 800 600 750 C720 740 840 735 950 740 C1010 790 1060 870 1080 920', 'M840 350 C870 320 950 320 985 400 C1010 430 1030 320 1060 330 C1090 350 1120 470 1215 600', 'M290 1060 C340 1050 380 1060 400 980 C430 950 520 1000 560 1060 L440 1100 L405 1110', 'M620 560 C600 620 620 660 640 680 M800 560 C790 610 810 640 840 640', 'M950 920 C1000 910 1040 890 1060 870 M840 800 C880 830 910 830 930 800 M700 780 C730 810 770 810 790 780'];
  for (const d of shapes) {
    const w = make('path', {d: d, fill: 'none', stroke: '#D5D8E4', 'stroke-width': 56}, bands);
    
    
    const s = make('path', {d: d, fill: 'none', stroke: '#98A1C4', 'stroke-width': 15}, bands);
    
    
  }
  const stroma = ['M545 55 L600 60 L650 95 L740 70 L780 50 L840 40 L880 110 L890 200 L840 240 L790 290 L800 400 L770 390 L730 330 L640 360 L545 330 L540 310 L690 280 L760 220 L800 170 L790 135 L700 120 L620 150 L570 100Z','M180 310 L250 365 L360 340 L340 420 L300 480 L200 510 L140 580 L125 700 L120 740 L60 660 L55 600 L75 450 L130 340Z','M385 560 L430 480 L490 450 L520 490 L510 540 L540 600 L620 620 L620 660 L590 640 L530 600 L470 560 L410 570Z','M640 750 L700 650 L760 640 L720 690 L720 790 L690 840 L620 880 L580 870 L620 860 L650 820Z','M540 750 L590 715 L570 755Z','M1010 290 L1050 290 L1130 450 L1105 470 L1060 380Z','M830 450 L870 450 L950 510 L900 530Z','M975 590 L1040 540 L1130 510 L1270 470 L1270 510 L1140 550 L1060 590 L1020 650 L980 610Z','M1060 780 L1110 700 L1160 700 L1240 640 L1285 640 L1275 780 L1250 830 L1180 900 L1140 890 L1200 800 L1240 720 L1170 720 L1150 770Z','M200 840 L280 850 L330 840 L340 860 L310 910 L240 910 L190 870Z'];
  const st = $('crcStroma');
  for (const d of stroma) {
    const s = make('path', {d: d}, st);
    
    
  }
})();

/* ---------- Panel F ---------- */
(function () {
  const g = $('panelF');
  const xT = t => 1184.5 + t * 35.9;
  const yP = s => 1755 - s * 348.8;
  const stepPath = (ev, end) => {
    let d = 'M' + xT(ev[0][0]).toFixed(1) + ' ' + yP(ev[0][1]).toFixed(1);
    for (let i = 1; i < ev.length; i++) d += 'H' + xT(ev[i][0]).toFixed(1) + 'V' + yP(ev[i][1]).toFixed(1);
    return d + 'H' + xT(end).toFixed(1);
  };
  const at = (ev, t) => { let s = 1; for (const p of ev) if (p[0] <= t) s = p[1]; return s; };
  const ax = make('path', {d: 'M1163.2 1389V1772H1636', fill: 'none', stroke: '#222', 'stroke-width': 2}, g);
  
  
  for (const v of survYTicks) {
    const tk = make('line', {x1: 1158.5, x2: 1163, y1: yP(v), y2: yP(v), stroke: '#222', 'stroke-width': 1.4}, g);
    
    
    const t = make('text', {x: 1156, y: yP(v) + 6.5, 'font-size': 18, 'text-anchor': 'end'}, g, v.toFixed(2));
    
    
  }
  for (const v of survXTicks) {
    const tk = make('line', {x1: xT(v), x2: xT(v), y1: 1772, y2: 1776.5, stroke: '#222', 'stroke-width': 1.4}, g);
    
    
    const t = make('text', {x: xT(v), y: 1792.5, 'font-size': 17, 'text-anchor': 'middle'}, g, String(v));
    
    
  }
  const dash = make('path', {d: 'M' + xT(0) + ' ' + yP(.5) + 'H' + xT(medianSurvival) + 'V' + yP(0), fill: 'none', stroke: '#222', 'stroke-width': 1.5, 'stroke-dasharray': '6 5'}, g);
  
  
  const groups = [[survHigh, censorHigh, survEnd.high, '#E8101A', 'high-level'], [survLow, censorLow, survEnd.low, '#0F0FD0', 'low-level']];
  for (const G of groups) {
    const l = make('path', {d: stepPath(G[0], G[2]), fill: 'none', stroke: G[3], 'stroke-width': 2.8}, g);
    
    
    for (const t of G[1]) {
      const x = xT(t), y = yP(at(G[0], t));
      const c = make('path', {d: 'M' + (x - 4.5).toFixed(1) + ' ' + y.toFixed(1) + 'h9M' + x.toFixed(1) + ' ' + (y - 4.5).toFixed(1) + 'v9', stroke: G[3], 'stroke-width': 1.5, fill: 'none'}, g);
      
      
    }
  }
  const texts = [
    [1400.8, 1316, 34.3, 'middle', 'PDGFRB', 'survival-title'],
    [1268.5, 1357.5, 16.4, 'start', 'PDGFRB', 'survival-legend-title'],
    [1363.5, 1357.5, 16.4, 'start', 'High level', 'survival-legend-high'],
    [1470.5, 1357.5, 16.4, 'start', 'Low level', 'survival-legend-low'],
    [1400, 1813.5, 19.3, 'middle', 'Time(years)', 'survival-x-axis-title'],
    [1194, 1693, 24, 'start', 'p=0.031', 'survival-p-value']
  ];
  for (const T of texts) {
    const t = make('text', {x: T[0], y: T[1], 'font-size': T[2], 'text-anchor': T[3]}, g, T[4]);
    
    
  }
  const yT = make('text', {transform: 'translate(1120 1561) rotate(-90)', 'font-size': 25, 'text-anchor': 'middle'}, g, 'Overall survival');
  
  
  const keys = [[1342, '#E8101A'], [1442, '#0F0FD0']];
  for (const K of keys) {
    const k = make('path', {d: 'M' + K[0] + ' 1352h19M' + (K[0] + 9.5) + ' 1347.5v9', stroke: K[1], 'stroke-width': 2, fill: 'none'}, g);
    
    
  }
})();
</script>
</body>
</html>
